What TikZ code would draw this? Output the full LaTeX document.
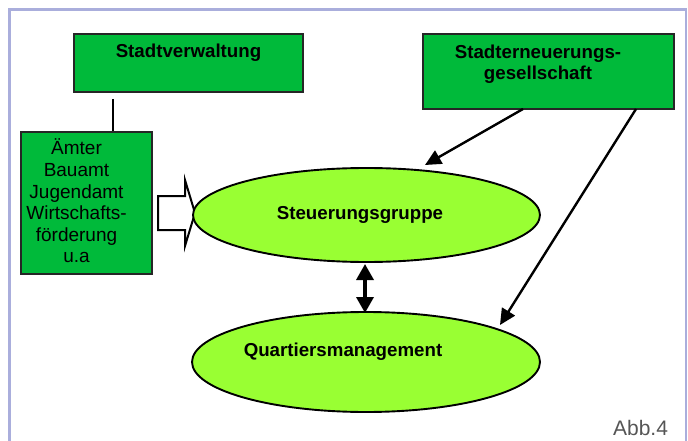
\documentclass[tikz,border=0pt]{standalone}
\usepackage{fontspec}
\setmainfont{Liberation Sans}
\usetikzlibrary{shapes.geometric,arrows.meta}
\definecolor{frameblue}{RGB}{170,174,220}
\definecolor{boxgreen}{RGB}{0,186,58}
\definecolor{limegreen}{RGB}{153,255,51}
\definecolor{notegray}{RGB}{85,85,85}
\tikzset{
  orgbox/.style={draw=black!85, line width=1.9pt, fill=boxgreen, rectangle, inner sep=0pt},
  roundbox/.style={draw=black, line width=1.9pt, fill=limegreen, ellipse, inner sep=0pt},
  boldlabel/.style={font=\fontsize{18.7}{21.5}\selectfont\bfseries, inner sep=0pt},
  plainlabel/.style={font=\fontsize{19}{21.6}\selectfont, inner sep=0pt, align=center},
  link/.style={line width=2.4pt, -{Triangle[length=16pt,width=15pt]}},
  twoway/.style={line width=3.4pt, {Triangle[length=16pt,width=17pt]}-{Triangle[length=16pt,width=17pt]}},
}
\begin{document}
\begin{tikzpicture}[x=1pt,y=-1pt]
\useasboundingbox (0,0) rectangle (688,441);
\fill[white] (0,0) rectangle (688,441);

% frame, open at the bottom
\draw[frameblue, line width=2.6pt] (9.5,441) -- (9.5,9.5) -- (686,9.5) -- (686,441);

% boxes
\node[orgbox, minimum width=229pt, minimum height=58pt] (sv) at (188.5,63) {};
\node[boldlabel] (svtext) at (188.5,53) {Stadtverwaltung};

\node[orgbox, minimum width=251pt, minimum height=75pt] (se) at (548.5,71.5) {};
\node[boldlabel, align=center] (setext) at (538,64) {Stadterneuerungs-\\gesellschaft};

\node[orgbox, minimum width=131pt, minimum height=142pt] (am) at (86.5,203) {};
\node[plainlabel] (amtext) at (76.5,201) {Ämter\\Bauamt\\Jugendamt\\Wirtschafts-\\förderung\\u.a};

% link from the administration down to the offices
\coordinate (svfoot) at (113,99);
\draw[line width=2.6pt] (svfoot) -- (svfoot |- am.north);

% block arrow from the offices to the steering group
\draw[line width=2pt, fill=white, line join=miter]
  (158,196) -- (185,196) -- (185,180) -- (195,213) -- (185,246) -- (185,230) -- (158,230) -- cycle;

% ellipses
\node[roundbox, minimum width=347pt, minimum height=94pt] (sg) at (366.5,215) {};
\node[boldlabel] (sgtext) at (360,215) {Steuerungsgruppe};

\node[roundbox, minimum width=348pt, minimum height=100pt] (qm) at (366,362) {};
\node[boldlabel] (qmtext) at (343,352) {Quartiersmanagement};

% arrows from the renewal company
\coordinate (seA) at (523,109);
\coordinate (seB) at (636,109);
\coordinate (sgTop) at (425,165);
\coordinate (qmTop) at (500,325);
\draw[link] (seA) -- (sgTop);
\draw[link] (seB) -- (qmTop);

% two-way link between the groups
\draw[twoway] (365,264) -- (365,313);

\node[text=notegray, font=\fontsize{21}{24}\selectfont, inner sep=0pt] (abb) at (640.5,428) {Abb.4};
\end{tikzpicture}
\end{document}
